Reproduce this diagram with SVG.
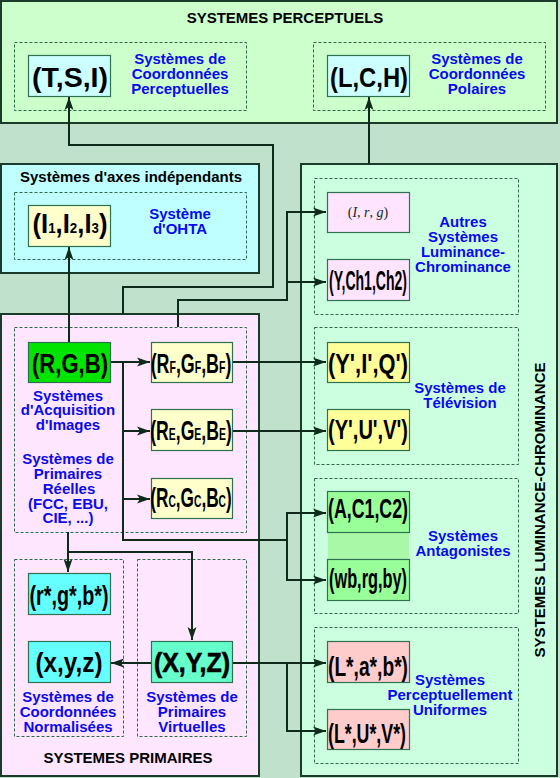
<svg xmlns="http://www.w3.org/2000/svg" width="560" height="778" viewBox="0 0 560 778">
<style>
.cont{stroke:#1a3a2a;stroke-width:2}
.dash{fill:none;stroke:#2e6a4a;stroke-width:1;stroke-dasharray:3,2}
.node{stroke:#2e7050;stroke-width:1.2}
.con{fill:none;stroke:#0e2a1a;stroke-width:2}
.arr{marker-end:url(#ah)}
.lab{font-family:"Liberation Sans",Arial,sans-serif;font-weight:bold;font-size:27px;text-anchor:middle;fill:#000}
.blue{font-family:"Liberation Sans",Arial,sans-serif;font-weight:bold;font-size:15px;text-anchor:middle;fill:#0a0aee}
.title{font-family:"Liberation Sans",Arial,sans-serif;font-weight:bold;font-size:15px;text-anchor:middle;fill:#000}
.math{font-family:"Liberation Serif","Times New Roman",serif;font-size:14px;text-anchor:middle;fill:#0e2a1a}
</style>
<defs>
<marker id="ah" markerUnits="userSpaceOnUse" markerWidth="14" markerHeight="10" refX="13" refY="5" orient="auto">
<path d="M0,0.5 L13,5 L0,9.5 L3,5 z" fill="#0e2a1a"/>
</marker>
</defs>
<rect x="0" y="0" width="560" height="778" fill="#c0e2cc"/>

<g id="containers">
<rect class="cont" x="1" y="1" width="556" height="122" fill="#ccffcc"/>
<rect class="cont" x="1" y="164" width="258" height="109" fill="#bfffff"/>
<rect class="cont" x="301" y="164" width="256" height="612" fill="#ccffe0"/>
<rect class="cont" x="1" y="314" width="258" height="462" fill="#ffe6ff"/>
<text class="title" x="285" y="23">SYSTEMES PERCEPTUELS</text>
<text class="title" x="131" y="182">Systèmes d'axes indépendants</text>
<text class="title" x="128" y="763">SYSTEMES PRIMAIRES</text>
<text class="title" transform="translate(545,510) rotate(-90)">SYSTEMES LUMINANCE-CHROMINANCE</text>
</g>

<g id="groups">
<rect class="dash" x="14.5" y="42.5" width="232" height="68"/>
<rect class="dash" x="313.5" y="42.5" width="232" height="68"/>
<rect class="dash" x="14.5" y="192.5" width="232" height="67"/>
<rect class="dash" x="314.5" y="178.5" width="204" height="136"/>
<rect class="dash" x="314.5" y="327.5" width="204" height="137"/>
<rect class="dash" x="314.5" y="478.5" width="204" height="135"/>
<rect class="dash" x="314.5" y="627.5" width="204" height="136"/>
<rect class="dash" x="14.5" y="327.5" width="232" height="205"/>
<rect class="dash" x="14.5" y="559.5" width="109" height="177"/>
<rect class="dash" x="137.5" y="559.5" width="109" height="177"/>
<text class="blue" x="180" y="64">Systèmes de</text>
<text class="blue" x="180" y="79">Coordonnées</text>
<text class="blue" x="180" y="94">Perceptuelles</text>
<text class="blue" x="477" y="64">Systèmes de</text>
<text class="blue" x="477" y="79">Coordonnées</text>
<text class="blue" x="477" y="94">Polaires</text>
<text class="blue" x="180" y="219">Système</text>
<text class="blue" x="180" y="234">d'OHTA</text>
<text class="blue" x="463" y="227">Autres</text>
<text class="blue" x="463" y="242">Systèmes</text>
<text class="blue" x="463" y="257">Luminance-</text>
<text class="blue" x="463" y="272">Chrominance</text>
<text class="blue" x="460" y="393">Systèmes de</text>
<text class="blue" x="460" y="408">Télévision</text>
<text class="blue" x="463" y="541">Systèmes</text>
<text class="blue" x="463" y="556">Antagonistes</text>
<text class="blue" x="450" y="685">Systèmes</text>
<text class="blue" x="450" y="700">Perceptuellement</text>
<text class="blue" x="450" y="715">Uniformes</text>
<text class="blue" x="68" y="401">Systèmes</text>
<text class="blue" x="68" y="415">d'Acquisition</text>
<text class="blue" x="68" y="430">d'Images</text>
<text class="blue" x="68" y="464">Systèmes de</text>
<text class="blue" x="68" y="479">Primaires</text>
<text class="blue" x="69" y="494">Réelles</text>
<text class="blue" x="68" y="509">(FCC, EBU,</text>
<text class="blue" x="68" y="523">CIE, ...)</text>
<text class="blue" x="68" y="702">Systèmes de</text>
<text class="blue" x="68" y="717">Coordonnées</text>
<text class="blue" x="68" y="732">Normalisées</text>
<text class="blue" x="192" y="702">Systèmes de</text>
<text class="blue" x="192" y="717">Primaires</text>
<text class="blue" x="192" y="732">Virtuelles</text>
</g>

<g id="connectors">
<path class="con arr" d="M123,314 V287 H273 V145 H69 V97"/>
<path class="con arr" d="M69,342 V247"/>
<path class="con arr" d="M178,327 V300 H287 V212 H326"/>
<path class="con arr" d="M287,282 H326"/>
<path class="con arr" d="M369,164 V97"/>
<path class="con arr" d="M110,362 H150"/>
<path class="con arr" d="M123,362 V540 H287 V580 H326"/>
<path class="con arr" d="M287,540 V513 H326"/>
<path class="con arr" d="M123,431 H150"/>
<path class="con arr" d="M123,499 H150"/>
<path class="con arr" d="M232,362 H326"/>
<path class="con arr" d="M232,431 H326"/>
<path class="con arr" d="M68,532 V572"/>
<path class="con arr" d="M68,552 H192 V640"/>
<path class="con arr" d="M151,663 H111"/>
<path class="con arr" d="M232,663 H326"/>
<path class="con arr" d="M287,663 V731 H326"/>
</g>

<g id="n-tsi"><rect class="node" x="28.5" y="55.5" width="82" height="41" fill="#ccffff"/><text class="lab" x="70" y="87" textLength="76" lengthAdjust="spacingAndGlyphs">(T,S,I)</text></g>
<g id="n-lch"><rect class="node" x="327.5" y="55.5" width="82" height="41" fill="#ccffff"/><text class="lab" x="369" y="87" textLength="78" lengthAdjust="spacingAndGlyphs">(L,C,H)</text></g>
<g id="n-ohta"><rect class="node" x="28.5" y="205.5" width="82" height="41" fill="#ffffcc"/><text class="lab" transform="translate(70,233) scale(0.95,1)">(I<tspan font-size="14">1</tspan>,I<tspan font-size="14">2</tspan>,I<tspan font-size="14">3</tspan>)</text></g>
<g id="n-irg"><rect class="node" x="327.5" y="192.5" width="82" height="40" fill="#ffe4ff"/><text class="math" x="368" y="217">(<tspan font-style="italic">I</tspan>, <tspan font-style="italic">r</tspan>, <tspan font-style="italic">g</tspan>)</text></g>
<g id="n-ych"><rect class="node" x="327.5" y="259.5" width="82" height="41" fill="#ffe4ff"/><text class="lab" x="368" y="290" textLength="78" lengthAdjust="spacingAndGlyphs">(Y,Ch1,Ch2)</text></g>
<g id="n-rgb"><rect class="node" x="28.5" y="342.5" width="82" height="40" fill="#00e400"/><text class="lab" x="70" y="373" textLength="76" lengthAdjust="spacingAndGlyphs">(R,G,B)</text></g>
<g id="n-rf"><rect class="node" x="151.5" y="342.5" width="81" height="40" fill="#ffffcc"/><text class="lab" font-size="25" transform="translate(191,373) scale(0.66,1)">(R<tspan font-size="16">F</tspan>,G<tspan font-size="16">F</tspan>,B<tspan font-size="16">F</tspan>)</text></g>
<g id="n-re"><rect class="node" x="151.5" y="409.5" width="81" height="41" fill="#ffffcc"/><text class="lab" font-size="25" transform="translate(191,440) scale(0.652,1)">(R<tspan font-size="16">E</tspan>,G<tspan font-size="16">E</tspan>,B<tspan font-size="16">E</tspan>)</text></g>
<g id="n-rc"><rect class="node" x="151.5" y="478.5" width="81" height="40" fill="#ffffcc"/><text class="lab" font-size="25" transform="translate(191,507) scale(0.638,1)">(R<tspan font-size="16">C</tspan>,G<tspan font-size="16">C</tspan>,B<tspan font-size="16">C</tspan>)</text></g>
<g id="n-yiq"><rect class="node" x="327.5" y="342.5" width="82" height="40" fill="#ffff99"/><text class="lab" x="368" y="373" textLength="80" lengthAdjust="spacingAndGlyphs">(Y',I',Q')</text></g>
<g id="n-yuv"><rect class="node" x="327.5" y="409.5" width="82" height="41" fill="#ffff99"/><text class="lab" x="368" y="439" textLength="80" lengthAdjust="spacingAndGlyphs">(Y',U',V')</text></g>
<g id="n-ant">
<rect x="328" y="532" width="81" height="27" fill="#a8f8a8"/>
<rect class="node" x="327.5" y="491.5" width="82" height="41" fill="#99ff99"/><text class="lab" x="368" y="518" textLength="80" lengthAdjust="spacingAndGlyphs">(A,C1,C2)</text>
</g>
<g id="n-wb"><rect class="node" x="327.5" y="559.5" width="82" height="41" fill="#99ff99"/><text class="lab" x="368" y="588" textLength="78" lengthAdjust="spacingAndGlyphs">(wb,rg,by)</text></g>
<g id="n-lab"><rect class="node" x="327.5" y="641.5" width="82" height="41" fill="#ffcccc"/><text class="lab" x="368" y="676" font-size="29" textLength="80" lengthAdjust="spacingAndGlyphs">(L*,a*,b*)</text></g>
<g id="n-luv"><rect class="node" x="327.5" y="709.5" width="82" height="40" fill="#ffcccc"/><text class="lab" x="367" y="743" font-size="29" textLength="78" lengthAdjust="spacingAndGlyphs">(L*,U*,V*)</text></g>
<g id="n-rgbn"><rect class="node" x="28.5" y="573.5" width="82" height="41" fill="#66ffff"/><text class="lab" x="69" y="605" textLength="79" lengthAdjust="spacingAndGlyphs">(r*,g*,b*)</text></g>
<g id="n-xyzn"><rect class="node" x="28.5" y="641.5" width="82" height="41" fill="#66ffff"/><text class="lab" x="69" y="672" textLength="67" lengthAdjust="spacingAndGlyphs">(x,y,z)</text></g>
<g id="n-xyz"><rect class="node" x="151.5" y="641.5" width="81" height="41" fill="#66ffcc"/><text class="lab" x="192" y="672" font-weight="normal" stroke="#000" stroke-width="0.6" textLength="76" lengthAdjust="spacingAndGlyphs">(X,Y,Z)</text></g>
</svg>
